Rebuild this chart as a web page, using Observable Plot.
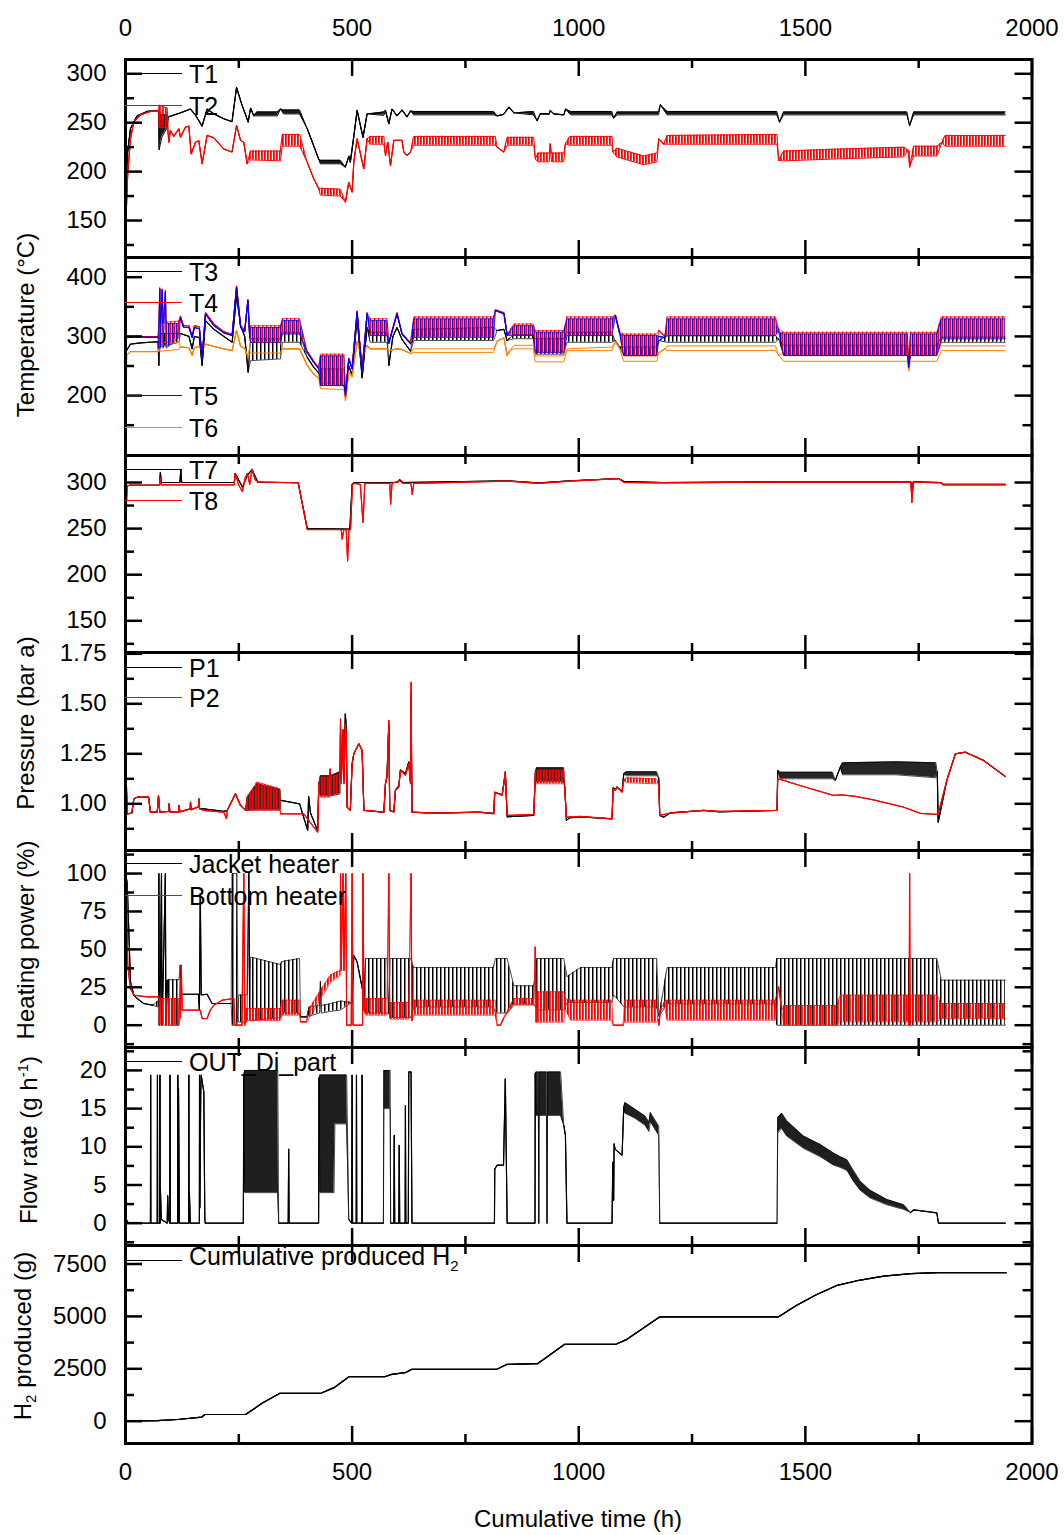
<!DOCTYPE html>
<html><head><meta charset="utf-8">
<script src="https://cdn.jsdelivr.net/npm/d3@7"></script>
<script src="https://cdn.jsdelivr.net/npm/@observablehq/plot@0.6"></script>
<style>
body{margin:0;background:#fff;}
#root{position:relative;width:1064px;height:1535px;font-family:"Liberation Sans",Arial,sans-serif;color:#000;overflow:hidden;}
.leg{position:absolute;font-size:25px;line-height:25px;white-space:nowrap;transform:translateY(-50%);}
.legline{position:absolute;height:0;border-top:1.2px solid;}
.ylab{position:absolute;font-size:24px;line-height:26px;white-space:nowrap;transform:translate(-50%,-50%) rotate(-90deg);}
.xlab{position:absolute;font-size:24px;white-space:nowrap;transform:translate(-50%,-50%);}
sup,sub{font-size:15px;}
</style></head><body><div id="root"></div>
<script>
// ---------- axis ticks ----------
const xMajor = [0, 500, 1000, 1500, 2000];
const xMinor = [250, 750, 1250, 1750];
const yDom1 = [112.2, 314.6], yMaj1 = [150, 200, 250, 300], yMin1 = [125, 175, 225, 275];
const yDom2 = [98.8, 433.3], yMaj2 = [200, 300, 400], yMin2 = [150, 250, 350];
const yDom3 = [115.6, 329.3], yMaj3 = [150, 200, 250, 300], yMin3 = [125, 175, 225, 275];
const yDom4 = [0.7665, 1.7565], yMaj4 = [1.00, 1.25, 1.50, 1.75], yMin4 = [0.875, 1.125, 1.375, 1.625];
const yDom5 = [-14.7, 115.2], yMaj5 = [0, 25, 50, 75, 100], yMin5 = [-12.5, 12.5, 37.5, 62.5, 87.5, 112.5];
const yDom6 = [-2.92, 23.0], yMaj6 = [0, 5, 10, 15, 20], yMin6 = [-2.5, 2.5, 7.5, 12.5, 17.5, 22.5];
const yDom7 = [-1064, 8383], yMaj7 = [0, 2500, 5000, 7500], yMin7 = [1250, 3750, 6250];

// ---------- series: [t, value] or [t, low, high] (oscillation envelope) ----------
const T1 = [[0,135],[0.5,145],[3.7,216],[11,244],[25.7,257],[47.8,261.5],[73,262.5],[74,222,262],[80,235,258],[92,245,258],[95,256],[121,260],[143,264],[154,258],[169,246.5],[180,264],[195,259],[217,254],[235,251],[245,286],[257,268],[265,258],[270.6,250.6],[276,265],[283,257],[290,257,261],[335,257,261],[342,264],[349,259,263],[384,259,263],[401,243.8],[415,226.7],[426,213],[430,208,211.5],[474,208,211.5],[485,204.6],[493,216],[496,209.7],[504,237],[511,262.5],[524,235],[533,259],[570,257.5,261],[573.5,262.5],[581,248.9],[588,264],[599,257],[610,263],[621,256],[629,262],[636,258,261.5],[812,258,261.5],[820,257],[834,258.5],[846,266],[857,260],[900,258,261.5],[908,252],[915,259],[935,259],[937,262.5],[945,259],[967,258],[971,264],[982,258,261.5],[1073,258,261.5],[1077,254.7],[1085,258,261],[1176,258,261],[1180,268.3],[1195,258,261.5],[1437,258,261.5],[1443,250.6],[1452,258,261],[1724,258,261],[1730,247],[1739,258,261],[1941,258,261]];
const T2 = [[0,128],[1,150],[5,199],[11,233.5],[18,250.6],[33,258],[55,261.5],[73,262],[74,245,268],[92,245,265],[95.6,230],[99,242],[106.6,236],[117.6,243.8],[121.3,235.2],[132.4,245.5],[139.7,246.5],[144.9,218],[154.4,230],[161.8,231.5],[169,208],[180,237],[195,234.5],[217,223],[235,220],[245,247],[254,231.8],[261,230],[268.4,208],[275.7,212,221],[342,211,221],[345.6,226,238],[384.6,226,238],[400.7,209.7],[415.4,192.6],[426.5,182.4],[430,176,183],[474,175,182],[485.3,168.8],[492.6,189],[500,179],[503.7,209.7],[511,233.5],[525.7,202.9],[533,233.5],[540,228,236],[570,228,236],[573.5,216.5],[578.7,230],[584.6,206],[592,232],[610,232],[614,220],[621,216.5],[628.7,220],[636,227,236],[816,227,236],[820,225],[834.6,220],[842,227,235],[900.7,227,235],[904.4,213],[910,210,219],[935,210,219],[937,228.4],[940,210,219],[967,210,219],[970.6,228.4],[980,227,236],[1073.5,227,236],[1075.7,220],[1084,215,224],[1143.4,207,216],[1172.8,210,219],[1176.5,233.5],[1187.5,228],[1195,228,237],[1437.5,228,238],[1441,211.4],[1452,211,221],[1570,213,223],[1717,215,225],[1727.9,221.6],[1730,204.6],[1738.9,216,226],[1790.4,216,226],[1801.5,230],[1808,226,237],[1941,226,237]];

const T3 = [[0,110],[1.5,250],[2.2,276],[11,287],[33,289],[72,291],[73.5,251],[76,282,305],[118,290,305],[121,305],[140,300],[147,279],[152,300],[163,298],[169,251],[176.5,326.8],[195,312],[217,300],[235.3,290],[245,369],[254,318],[263,300],[270.6,239.5],[276,259,296],[342,262,296],[346,290,307],[384,290,307],[400.7,265],[415,248],[426.5,238],[430,217,245],[482,217,245],[485.3,205],[492.6,250],[500,235],[511,332],[522,230],[533,315],[540,290,307],[577,290,307],[581,251],[590,300],[599,315],[610,295],[629,275],[636,293,312],[812,293,315],[820,310],[835,312],[842,293],[857,296,303],[900,296,303],[904,270,296],[967,270,296],[974,290,307],[1073,290,307],[1080,293],[1090,282],[1099,268,282],[1172,268,282],[1176.5,293],[1195,290,301],[1434,290,301],[1441,296],[1452,268,285],[1725,268,285],[1728,252],[1732,268,285],[1790,268,285],[1800,290,299],[1941,290,299]];
const T4 = [[0,105],[1,250],[2.2,299.7],[72,299.7],[73.5,282,324],[75.7,382],[77,282,324],[81,380],[83,282,324],[88,378],[90,282,324],[118,300,326],[121,334],[128,318],[140,318],[147,300],[152,318],[163,316],[169,264],[176.5,340],[195,321],[217,308],[235.3,303],[245,385],[254,318],[263,310],[270,362],[274,300],[276,290,318],[342,290,318],[346,304,330],[384,304,330],[400.7,275],[415.4,258],[426.5,247],[430,217,270],[482,217,270],[485.3,202],[492.6,263],[500,246],[511,343],[522,241],[533,340],[540,301.5,330],[577,301.5,330],[581,290],[599,340],[610,305],[629,289],[636,298.6,333],[812,298.6,333],[816,345],[835,340],[842,303],[857,301.5,321],[900,301.5,321],[904,273,310],[967,273,310],[974,301.5,333],[1073,301.5,333],[1080.9,336],[1090,308],[1099,267.7,304],[1172,267.7,304],[1176.5,310],[1190,300],[1195,301.5,333],[1434,301.5,333],[1441,313],[1452,267.7,307],[1725,267.7,307],[1728,250],[1732,267.7,307],[1790,267.7,307],[1800,296,333],[1941,296,333]];
const T5 = [[0,105],[1,250],[2.2,298.6],[72,298.6],[73.5,280,322],[75.7,380],[77,280,322],[81,378],[83,280,322],[88,375],[90,280,322],[118,298,322],[121,332],[128,315.5],[140,315],[147,298],[152,315],[163,313],[169,262],[176.5,338],[195,318],[217,306],[235.3,301.5],[245,383],[254,315],[263,308],[270,360.6],[274,298],[276,290,315],[342,290,315],[346,304,327],[384,304,327],[400.7,273],[415.4,256],[426.5,245],[430,217,267],[482,217,267],[485.3,200],[492.6,262],[500,245],[511,341],[522,239.5],[533,338],[540,301.5,327],[577,301.5,327],[581,288],[599,338],[610,304],[629,287.4],[636,298.6,329.6],[812,298.6,329.6],[816,343.7],[835,338],[842,301.5],[857,301.5,318],[900,301.5,318],[904,273,307],[967,273,307],[974,301.5,329.6],[1073,301.5,329.6],[1080.9,335],[1090,305],[1099,267.7,301.5],[1172,267.7,301.5],[1176.5,300],[1190,298],[1195,301.5,329.6],[1434,301.5,329.6],[1441,308],[1452,267.7,304],[1725,267.7,304],[1728,248],[1732,267.7,304],[1790,267.7,304],[1800,296,329.6],[1941,296,329.6]];
const T6 = [[0,386],[0.8,144],[2.5,268],[11,274.4],[72,274.4],[73.5,278],[76,275,290],[118,278,290],[121,282],[140,281],[147,268],[152,281],[163,283],[169,276],[176.5,287],[195,283],[217,279],[235.3,276],[245,310],[254,283],[263,280],[270,266],[276,272,290],[342,272,290],[346,279],[384,279],[400.7,251],[415.4,236],[426.5,229.4],[430,212,221],[482,210,219],[485.3,191.7],[492.6,240],[500,232],[511,291.3],[522,265],[533,285],[540,279],[577,279],[581,276],[599,279],[610,278],[629,271],[636,273,279],[812,273,279],[820,292],[835,297.6],[842,267.7],[848,276],[857,279,285],[900,279,285],[904,257,267],[967,257,267],[974,276,279],[1073,276,282],[1080.9,291.3],[1090,280],[1099,258,267],[1172,258,267],[1176.5,272],[1190,279],[1195,276,284],[1434,276,284],[1441,268],[1452,258,272],[1725,258,272],[1728,242.3],[1732,258,272],[1790,258,272],[1800,276,284],[1941,276,284]];

const T7 = [[0,200],[1,250],[3,296.4],[10,297],[75,297],[77,311],[79,300],[120,300],[122,314],[124,300],[240,300],[242,310],[258,295],[269,308],[279,314],[292.5,300],[381,300],[401,250],[495,249.4],[500,298],[505,300],[600,300],[605,303],[612,300],[843,301.8],[911,299.5],[980,301.8],[1088,304.3],[1100,301],[1184,300],[1449,300.7],[1733,300.7],[1735,285],[1738,300.7],[1800,300],[1803,298],[1941,298]];
const T8 = [[0,200],[1,250],[3,296.4],[10,297],[75,297],[77,305],[79,297.5],[240,297.5],[242,310],[250,297],[258,290],[264,305],[269,310],[274,298],[279,314.5],[286,303],[292.5,300.7],[381,299.5],[401,249],[476,249],[478,238.6],[482,249],[487,249],[490,215],[493,249],[496.6,249],[500.7,298],[505,299],[518,298],[524,256.6],[528,299],[583,299],[585,276.5],[588,299],[605,302],[612,299],[630,299],[632.7,287],[636,299],[843,301.5],[911,299],[980,301.5],[1088,304.3],[1100,300],[1184,299.5],[1449,300.5],[1733,300.5],[1735,278.3],[1738,300.5],[1800,299.5],[1803,297.5],[1941,297.5]];

const P1 = [[0,1.267],[3.7,0.95],[14,0.953],[18.4,1.025],[25.7,1.033],[51,1.033],[55,0.958],[70,0.958],[72.8,1.04],[75.7,0.958],[95,0.962],[96.3,1.0],[97.8,0.96],[117,0.96],[118.4,0.992],[119.8,0.96],[143,0.975],[143.4,1.008],[144.8,0.97],[161,0.985],[161.8,1.025],[163.5,0.975],[172,0.975],[216.9,0.962],[224.3,0.967],[242.6,1.05],[253.7,0.992],[264.7,0.967],[268.4,0.967,1.033],[290,0.97,1.1],[341,0.97,1.07],[343,1.017],[384,1.0],[402,0.867],[404,1.037],[408,0.955],[424,0.865],[426.5,1.1],[430,1.04,1.14],[450.7,1.04,1.14],[452,1.17],[453,1.04,1.14],[473,1.05,1.16],[474.3,1.39],[476,1.12],[480,1.37],[482,1.12],[485,1.45],[487,1.383],[489,0.983],[496,0.967],[500,1.2],[503.7,1.25],[514.7,1.3],[522,1.267],[526,0.967],[570,0.958],[573.5,1.1],[577,1.14],[581,1.4],[583,0.967],[592,0.96],[595.6,1.07],[603,1.09],[606.6,1.17],[617.6,1.15],[625,1.21],[628.7,1.11],[630.1,1.55],[632,0.958],[680,0.953],[780,0.958],[812.5,0.952],[814.7,1.058],[831,1.045],[834.6,1.1],[838,1.16],[842,0.935],[900.7,0.942],[904.4,1.16],[907,1.11,1.18],[967,1.11,1.18],[969,1.09],[972.8,0.917],[980,0.93],[1003,0.935],[1073.5,0.925],[1075.7,1.08],[1080.9,1.07],[1084.6,1.085],[1095.6,1.06],[1099.3,1.15],[1105,1.14,1.16],[1172,1.14,1.16],[1176.5,1.13],[1178.7,0.942],[1187.5,0.933],[1202,0.955],[1275.7,0.967],[1310,0.96],[1437.5,0.967],[1439,1.167],[1445,1.125,1.158],[1560,1.125,1.158],[1566,1.117],[1577,1.183],[1582,1.145,1.205],[1700,1.145,1.21],[1788,1.13,1.205],[1791,1.16],[1793,0.908],[1812,1.117],[1831,1.25],[1853,1.258],[1893,1.217],[1941,1.137]];
const P2 = [[0,1.267],[3.7,0.95],[14,0.953],[18.4,1.025],[25.7,1.033],[51,1.033],[55,0.958],[70,0.958],[72.8,1.04],[75.7,0.958],[95,0.962],[96.3,1.0],[97.8,0.96],[117,0.96],[118.4,0.992],[119.8,0.96],[143,0.975],[143.4,1.008],[144.8,0.97],[161,0.985],[161.8,1.025],[163.5,0.975],[172,0.967],[216.9,0.958],[222.8,0.925],[224.3,0.967],[242.6,1.05],[253.7,0.992],[264.7,0.967],[268.4,0.967,1.033],[290,0.967,1.108],[341,0.967,1.075],[342,0.95],[393,0.95],[424,0.858],[426.5,1.1],[430,1.033,1.133],[450.7,1.033,1.133],[451.5,1.175],[452.5,1.04,1.133],[473,1.05,1.15],[474.3,1.425],[476,1.1],[480,1.367],[482,1.1],[485,1.4],[487,1.35],[489,0.983],[496,0.967],[500,1.2],[503.7,1.25],[514.7,1.3],[522,1.267],[526,0.967],[570,0.958],[573.5,1.1],[577,1.133],[581,1.417],[583,0.967],[592,0.958],[595.6,1.067],[603,1.083],[606.6,1.167],[617.6,1.142],[625,1.2],[628.7,1.1],[630.1,1.608],[632,0.958],[680,0.953],[780,0.958],[812.5,0.95],[814.7,1.058],[831,1.042],[834.6,1.1],[838,1.158],[842,0.942],[900.7,0.947],[904.4,1.158],[907,1.1,1.167],[967,1.1,1.167],[969,1.083],[972.8,0.933],[1003,0.937],[1073.5,0.925],[1075.7,1.075],[1080.9,1.067],[1084.6,1.083],[1095.6,1.058],[1099.3,1.117],[1105,1.105,1.13],[1172,1.1,1.125],[1176.5,1.1],[1178.7,0.942],[1202,0.953],[1275.7,0.967],[1310,0.962],[1437.5,0.967],[1439,1.125],[1452,1.117],[1490,1.09],[1562,1.042],[1580,1.045],[1610,1.037],[1650,1.02],[1717,0.983],[1754,0.952],[1790,0.947],[1793,0.95],[1812,1.117],[1831,1.25],[1853,1.258],[1893,1.217],[1941,1.137]];

const jacket = [[0,100],[3.7,94],[11,28.6],[18.4,19.8],[25.7,17.6],[40,14.3],[60,13.2],[72,12,16],[73,13],[73.5,100],[74.5,0],[77,30],[79.4,100],[80.5,0],[83,30],[88,100],[89,0],[92,29.7],[95,0,30],[118,0,30],[121,39.6],[123,20.4],[161,20.4],[163,10],[165,86.8],[167,20],[180,20.4],[191,14.3],[233,14.3],[235,0,100],[246,0,100],[248,5],[250,2,20],[268,2,20],[272,100],[274,5],[276,3,45],[342,5,40],[345,8,42],[384,8,44],[386,5.5],[400,5.5],[405,6,12],[428,8,13],[430,28.6],[432,8,13],[450,9,14],[474,10,16],[500,15],[503.7,46],[511,41.8],[526,18.7],[530,8,44],[577,8,44],[581,8],[584,5,44],[629,5,44],[636,12,38],[812,12,38],[816,8,44],[842,8,44],[857,14,26],[901,14,26],[908,10,44],[967,10,44],[974,15,32],[1004,15,38],[1073,15,38],[1077,20,44],[1100,12,44],[1172,12,44],[1177,6],[1195,14,38],[1434,14,38],[1437,0,44],[1790,0,44],[1800,0,29.7],[1941,0,29.7]];
const bottomHeater = [[0,100],[2,100],[5,40],[7.4,33],[11,24],[18.4,19.8],[47.8,18.7],[73.5,18.7],[74,0,17.6],[118,0,17.6],[121,5],[123,39.6],[125,9.9],[165,9.9],[169,4.4],[180,4.4],[187,9.9],[195,13.2],[213,16.5],[239,17.6],[241,0],[257,0],[261,100],[263,0],[266,3,11],[342,3,11],[345,6.6,16.5],[384,6.6,16.5],[386,2.2],[400,2.2],[402,3,9],[420,12,18],[452,28,33],[474,33,36.3],[474.3,100],[476,36],[480,100],[482,36],[486,100],[488,0],[498,0],[500,100],[502,0],[523,0],[524,100],[526,10],[530,6.6,17.6],[577,6.6,17.6],[581,100],[583,5],[584,4,15],[625,4,15],[630,100],[632,3],[636,6.6,16.5],[816,6.6,16.5],[820,0],[827,0],[835,5],[857,13.2,17.6],[901,13.2,17.6],[904,51.6],[906,2],[908,2,22],[967,2,22],[970,11,17.6],[982,3.3,16.5],[1073,3.3,16.5],[1076,0],[1098,0],[1101,2,16.5],[1172,2,16.5],[1175,4],[1177,0],[1180,10],[1190,12,16],[1195,3.3,16.5],[1434,3.3,16.5],[1441,25.3],[1448,10],[1452,0,13],[1570,0,13],[1577,2.2,19.8],[1727,2.2,19.8],[1729,0],[1730,100],[1731,0],[1733,2.2,19.8],[1790,2.2,19.8],[1800,4.4,14.3],[1941,4.4,14.3]];

const flow = [[0,0.6],[7,0],[55,0],[55.5,19.4],[56,0],[70,0],[70.5,19.4],[71,0],[75.7,0],[76,19.4],[76.5,0],[77,4.5],[79,0.5],[92,0],[93,3.6],[95,0.5],[97.8,0],[98.2,19.4],[98.8,0],[115,0],[115.4,19.4],[116,0],[117,17.6],[119,0],[139.5,0],[139.7,19.4],[140.2,0],[141,4],[143,0],[163,0],[163.3,19.4],[164,2],[166,17],[167,19.4],[172.8,17.2],[175,0.5],[176,0],[260,0],[261,19.4],[263,4,20],[336,4,20],[338,0],[359,0],[360,9.7],[361,0],[426,0],[427,19],[429,4,19.4],[460,4,19.4],[462,13,19.4],[488,13,19.4],[492.6,0.5],[499,0],[500,19.4],[501,0],[509,0],[509.6,19.4],[510.2,0],[521.5,0],[522,19.4],[522.6,0],[569,0],[570,15,20],[584,15,20],[585,0],[592,0],[593,11.5],[594,0],[603,0],[604,10.2],[605,0],[617,0],[617.6,15.4],[618.5,0],[624,0],[625,19.8],[630,19.8],[632,0],[814,0],[814.7,7.1],[820,7.6],[834,7.6],[838,18.9],[842,0],[903.5,0],[904,19.6],[906,14.1,19.8],[911,14.1,19.8],[911.8,0],[912.6,14.1,19.8],[929,14.1,19.8],[930,0],[931,14.1,19.8],[960,14.1,19.8],[967,12.8],[970.6,11.5],[974,0],[1073.5,0],[1075,8],[1077,3],[1078,10.4],[1080,9.7],[1095.6,8.9],[1099.3,15.2],[1102,14.4,15.8],[1125,13.7,14.9],[1147,12.8,14],[1155,12,13.2],[1158,13.3,14.5],[1176.5,11.5,12.7],[1178.7,0],[1437.5,0],[1439,11.8,13.8],[1448,12.4,14.4],[1459,11.4,13.4],[1496,9.8,11.4],[1533,8.7,10.3],[1562,7.6,9.2],[1577,7.3,8.7],[1592,6.9,8.3],[1606,5.5,6.9],[1621,4.3,5.5],[1643,3.3,4.3],[1680,2.4,3.1],[1717,1.8,2.4],[1732,1.4],[1739,1.75],[1790,1.35],[1793.7,0],[1941,0]];

const h2 = [[0,0],[70,30],[115,80],[168,190],[175,320],[265,320],[303,880],[340,1325],[430,1325],[460,1600],[493,2120],[572,2120],[587,2235],[617,2315],[632,2475],[819.5,2475],[842,2715],[909,2745],[969,3670],[1082,3670],[1104,3880],[1179,4980],[1441,4980],[1479,5505],[1524,6030],[1568,6465],[1621,6735],[1673,6925],[1733,7040],[1793,7085],[1943,7085]];

// ---------- legend / labels ----------
const legendItems = [
  {y: 73.3, color: "#000", html: "T1"}, {y: 105, color: "#ff0000", html: "T2"},
  {y: 271, color: "#000", html: "T3"}, {y: 302.3, color: "#ff0000", html: "T4"},
  {y: 395, color: "#0000ff", html: "T5"}, {y: 426.7, color: "#ff8000", html: "T6"},
  {y: 469, color: "#000", html: "T7"}, {y: 500.3, color: "#ff0000", html: "T8"},
  {y: 666.7, color: "#000", html: "P1"}, {y: 697.3, color: "#ff0000", html: "P2"},
  {y: 863, color: "#000", html: "Jacket heater"}, {y: 894.7, color: "#ff0000", html: "Bottom heater"},
  {y: 1061, color: "#000", html: "OUT_Di_part"},
  {y: 1260, color: "#000", html: "Cumulative produced H<sub>2</sub>"}
];
const yTitles = [
  {x: 26, y: 325, html: "Temperature (°C)"},
  {x: 26, y: 723, html: "Pressure (bar a)"},
  {x: 26, y: 940, html: "Heating power (%)"},
  {x: 26, y: 1140, html: "Flow rate (g h<sup>-1</sup>)"},
  {x: 27, y: 1336, html: "H<sub>2</sub> produced (g)"}
];

// ---------- drawing ----------
const W = 1064, X0 = 125, X1 = 1031.5;
const bounds = [59, 257, 455, 652, 850, 1047, 1245, 1443];
const root = document.getElementById("root");
root.insertAdjacentHTML("beforeend", `<svg width="0" height="0" style="position:absolute"><defs>
<pattern id="stK" patternUnits="userSpaceOnUse" width="4" height="8"><rect x="0" y="0" width="1.5" height="8" fill="#000"/></pattern>
<pattern id="stR" patternUnits="userSpaceOnUse" width="4" height="8"><rect x="2" y="0" width="1.4" height="8" fill="#ff0000"/></pattern>
<pattern id="stB" patternUnits="userSpaceOnUse" width="4" height="8"><rect x="0" y="0" width="1.6" height="8" fill="#0000ff"/></pattern>
<pattern id="stR2" patternUnits="userSpaceOnUse" width="3" height="8"><rect x="0" y="0" width="1.8" height="8" fill="#ff0000"/></pattern>
</defs></svg>`);

const lo = d => d[1], hi = d => d.length > 2 ? d[2] : d[1], tx = d => d[0];
const single = d => d.length > 2 ? NaN : d[1];
function series(data, color, fill, fo, edge = 0.7) {
  return [
    Plot.areaY(data, {x: tx, y1: lo, y2: hi, fill, fillOpacity: fo, clip: true}),
    Plot.lineY(data, {x: tx, y: lo, stroke: color, strokeWidth: edge, clip: true}),
    Plot.lineY(data, {x: tx, y: hi, stroke: color, strokeWidth: edge, clip: true}),
    Plot.lineY(data, {x: tx, y: single, stroke: color, strokeWidth: 1.2, clip: true})
  ];
}

function panel(i, domain, major, minor, fmt, marks) {
  const first = i === 0, last = i === 6;
  const top = first ? 0 : bounds[i];
  const mt = first ? bounds[0] : 0;
  const mb = last ? 1535 - bounds[7] : 0;
  const height = (last ? 1535 : bounds[i + 1]) - top;
  const ph = height - mt - mb, pw = X1 - X0;
  const tk = {strokeWidth: 2.5, stroke: "#000"};
  const extra = [];
  if (first) extra.push(Plot.axisX({anchor: "top", ticks: xMajor, tickSize: 0, tickPadding: 24, label: null, tickFormat: d3.format("d")}));
  if (last) extra.push(Plot.axisX({anchor: "bottom", ticks: xMajor, tickSize: 0, tickPadding: 19, label: null, tickFormat: d3.format("d")}));
  const svg = Plot.plot({
    width: W, height, marginLeft: X0, marginRight: W - X1, marginTop: mt, marginBottom: mb,
    x: (first || last) ? {domain: [0, 2000]} : {domain: [0, 2000], axis: null},
    y: {domain},
    style: {fontFamily: '"Liberation Sans", Arial, sans-serif', fontSize: "24px", overflow: "visible", background: "none", color: "#000"},
    marks: [
      ...marks,
      Plot.tickX(xMajor, {x: d => d, insetTop: ph - 17, ...tk}),
      Plot.tickX(xMinor, {x: d => d, insetTop: ph - 9, ...tk}),
      Plot.tickX(xMajor, {x: d => d, insetBottom: ph - 17, ...tk}),
      Plot.tickX(xMinor, {x: d => d, insetBottom: ph - 9, ...tk}),
      Plot.tickY(major, {y: d => d, insetRight: pw - 17, ...tk}),
      Plot.tickY(minor, {y: d => d, insetRight: pw - 9, ...tk}),
      Plot.tickY(major, {y: d => d, insetLeft: pw - 17, ...tk}),
      Plot.tickY(minor, {y: d => d, insetLeft: pw - 9, ...tk}),
      Plot.axisY({ticks: major, tickSize: 0, tickPadding: 19, label: null, tickFormat: fmt}),
      ...extra,
      Plot.frame({stroke: "#000", strokeWidth: 3})
    ]
  });
  svg.style.position = "absolute";
  svg.style.left = "0px";
  svg.style.top = top + "px";
  svg.style.maxWidth = "none";
  root.appendChild(svg);
}

const fi = d3.format("d");
panel(0, yDom1, yMaj1, yMin1, fi, [...series(T1, "#000", "#000", 0.9, 1), ...series(T2, "#ff0000", "url(#stR2)", 1, 1)]);
panel(1, yDom2, yMaj2, yMin2, fi, [...series(T3, "#000", "url(#stK)", 1), ...series(T6, "#ff8000", "url(#stR2)", 0, 1), ...series(T4, "#ff0000", "url(#stR)", 1), ...series(T5, "#0000ff", "url(#stB)", 1)]);
panel(2, yDom3, yMaj3, yMin3, fi, [...series(T7, "#000", "#000", 0.5), ...series(T8, "#ff0000", "#ff0000", 0.5)]);
panel(3, yDom4, yMaj4, yMin4, d3.format(".2f"), [...series(P1, "#000", "#000", 0.85), ...series(P2, "#ff0000", "url(#stR2)", 1)]);
panel(4, yDom5, yMaj5, yMin5, fi, [...series(jacket, "#000", "url(#stK)", 1), ...series(bottomHeater, "#ff0000", "url(#stR2)", 1)]);
panel(5, yDom6, yMaj6, yMin6, fi, [...series(flow, "#000", "#000", 0.88)]);
panel(6, yDom7, yMaj7, yMin7, fi, [...series(h2, "#000", "#000", 0, 1.2)]);

for (const L of legendItems) {
  root.insertAdjacentHTML("beforeend",
    `<div class="legline" style="left:125px;width:57px;top:${L.y}px;border-color:${L.color}"></div>` +
    `<div class="leg" style="left:189px;top:${L.y + 1}px">${L.html}</div>`);
}
for (const t of yTitles) {
  root.insertAdjacentHTML("beforeend", `<div class="ylab" style="left:${t.x}px;top:${t.y}px">${t.html}</div>`);
}
root.insertAdjacentHTML("beforeend", `<div class="xlab" style="left:578px;top:1519px">Cumulative time (h)</div>`);
</script></body></html>
